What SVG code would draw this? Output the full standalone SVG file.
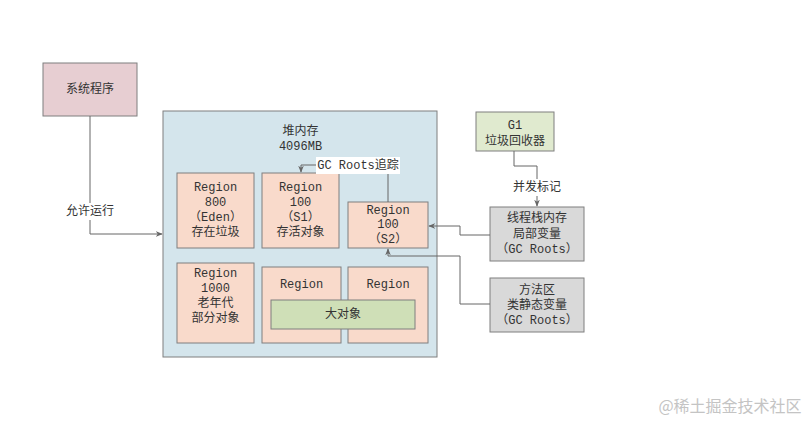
<svg xmlns="http://www.w3.org/2000/svg" width="812" height="421" viewBox="0 0 812 421">
<style>
text{font-family:"Liberation Mono","Noto Sans CJK SC",monospace;font-size:12px;fill:#333;text-anchor:middle;dominant-baseline:central}
.box{stroke:#7f7f7f;stroke-width:1}
.region{fill:#f9dacb}
.gray{fill:#d9d9d9}
.conn{fill:none;stroke:#666;stroke-width:1}
</style>
<defs>
<marker id="arr" viewBox="0 0 10 10" refX="9" refY="5" markerWidth="7" markerHeight="7" orient="auto">
<path d="M0,1 L10,5 L0,9 L3,5 Z" fill="#666"/>
</marker>
</defs>
<rect width="812" height="421" fill="#fff"/>
<g id="sys">
<rect class="box" x="43" y="63" width="94" height="53" fill="#e7ced2"/>
<text x="90" y="89.5">系统程序</text>
</g>
<g id="heap">
<rect class="box" x="163" y="111" width="274" height="246" fill="#d4e5ec"/>
<text x="300.5" y="132">堆内存</text>
<text x="300.5" y="147">4096MB</text>
</g>
<g id="eden">
<rect class="box region" x="177" y="173" width="77" height="75"/>
<text x="215.5" y="188">Region</text>
<text x="215.5" y="203">800</text>
<text x="215.5" y="218">（Eden）</text>
<text x="215.5" y="233">存在垃圾</text>
</g>
<g id="s1">
<rect class="box region" x="262" y="173" width="77" height="75"/>
<text x="300.5" y="188">Region</text>
<text x="300.5" y="203">100</text>
<text x="300.5" y="218">（S1）</text>
<text x="300.5" y="233">存活对象</text>
</g>
<g id="s2">
<rect class="box region" x="348" y="202" width="80" height="46"/>
<text x="388" y="210.5">Region</text>
<text x="388" y="225">100</text>
<text x="388" y="240">（S2）</text>
</g>
<g id="old">
<rect class="box region" x="177" y="263" width="77" height="80"/>
<text x="215.5" y="273.5">Region</text>
<text x="215.5" y="288.5">1000</text>
<text x="215.5" y="303.5">老年代</text>
<text x="215.5" y="318.5">部分对象</text>
</g>
<g id="hum1">
<rect class="box region" x="262" y="267" width="79" height="76"/>
<text x="301.5" y="285">Region</text>
</g>
<g id="hum2">
<rect class="box region" x="348" y="267" width="80" height="76"/>
<text x="388" y="285">Region</text>
</g>
<g id="big">
<rect class="box" x="271" y="300" width="144" height="29" fill="#cfdfb7"/>
<text x="343" y="315">大对象</text>
</g>
<g id="g1">
<rect class="box" x="476" y="112" width="78" height="39" fill="#e0eacf"/>
<text x="515" y="126">G1</text>
<text x="515" y="141.5">垃圾回收器</text>
</g>
<g id="stack">
<rect class="box gray" x="490" y="207" width="94" height="54"/>
<text x="537" y="219">线程栈内存</text>
<text x="537" y="235">局部变量</text>
<text x="537" y="250">（GC Roots）</text>
</g>
<g id="method">
<rect class="box gray" x="490" y="278" width="94" height="54"/>
<text x="537" y="291">方法区</text>
<text x="537" y="306">类静态变量</text>
<text x="537" y="321">（GC Roots）</text>
</g>
<g id="connectors">
<path class="conn" d="M90,116 V234 H162" marker-end="url(#arr)"/>
<rect x="62" y="203" width="56" height="17" fill="#fff"/>
<text x="90" y="211.5">允许运行</text>
<path class="conn" d="M388,202 V165 H301 V172" marker-end="url(#arr)"/>
<rect x="316" y="157" width="84" height="17" fill="#fff"/>
<text x="358" y="165.5">GC Roots追踪</text>
<path class="conn" d="M514,151 V166 H537 V206" marker-end="url(#arr)"/>
<rect x="510" y="179" width="55" height="17" fill="#fff"/>
<text x="537" y="187.5">并发标记</text>
<path class="conn" d="M490,235 H460 V226 H429" marker-end="url(#arr)"/>
<path class="conn" d="M490,304 H460 V256 H388 V249" marker-end="url(#arr)"/>
</g>
<text x="730" y="405" style="font-family:'Noto Sans CJK SC',sans-serif;font-size:16px;fill:#c4c4c4">@稀土掘金技术社区</text>
</svg>
